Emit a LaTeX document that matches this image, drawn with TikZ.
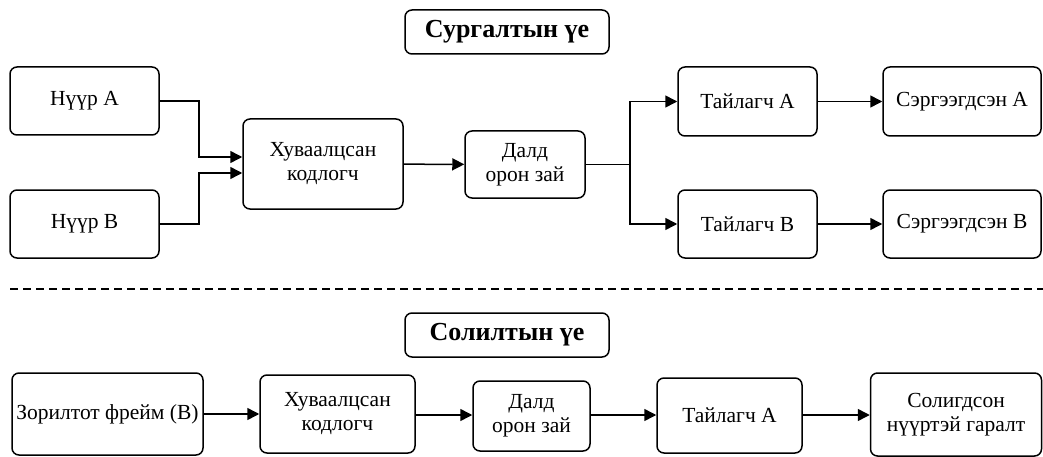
\documentclass[tikz,border=0pt]{standalone}
\usepackage{fontspec}
\setmainfont{Liberation Serif}
\usetikzlibrary{shapes,arrows,arrows.meta,positioning,calc}
\tikzset{
    block/.style={rectangle, draw, line width=1.5pt, rounded corners=7pt, align=center, inner sep=0pt, font=\fontsize{21.5}{24}\selectfont},
    phase/.style={block, minimum width=204pt, minimum height=44pt, font=\fontsize{26}{28}\selectfont\bfseries},
    line/.style={draw, line width=1.5pt, -{Triangle[length=12pt,width=12pt]}}
}
\begin{document}
\begin{tikzpicture}[x=1pt, y=-1pt]
    \useasboundingbox (0,0) rectangle (1043,457);
    % Training phase
    \node [phase] (train) at (507,32) {Сургалтын үе};
    \node [block, minimum width=149pt, minimum height=68pt] (faceA) at (84.5,101) {Нүүр A};
    \node [block, minimum width=149pt, minimum height=68pt] (faceB) at (84.5,224) {Нүүр B};
    \node [block, minimum width=160pt, minimum height=90pt] (enc) at (323,164) {Хуваалцсан\\кодлогч};
    \node [block, minimum width=120pt, minimum height=67pt] (latent) at (525,164.5) {Далд\\орон зай};
    \node [block, minimum width=139pt, minimum height=69pt] (decA) at (747.5,101.5) {Тайлагч A};
    \node [block, minimum width=139pt, minimum height=68pt] (decB) at (747.5,224) {Тайлагч B};
    \node [block, minimum width=158pt, minimum height=69pt] (recA) at (962,101.5) {Сэргээгдсэн A};
    \node [block, minimum width=158pt, minimum height=68pt] (recB) at (962,224) {Сэргээгдсэн B};

    % Separator
    \coordinate (sepL) at (10,289);
    \coordinate (sepR) at (1043,289);
    \draw [line width=1.5pt, dash pattern=on 8pt off 5pt] (sepL) -- (sepR);

    % Swap phase
    \node [phase] (swap) at (507,335) {Солилтын үе};
    \node [block, minimum width=191pt, minimum height=82pt] (target) at (107.5,414) {Зорилтот фрейм (B)};
    \node [block, minimum width=155pt, minimum height=78pt] (enc2) at (337.5,414) {Хуваалцсан\\кодлогч};
    \node [block, minimum width=117pt, minimum height=70pt] (latent2) at (531.5,416) {Далд\\орон зай};
    \node [block, minimum width=145pt, minimum height=75pt] (dec2) at (729.5,415.5) {Тайлагч A};
    \node [block, minimum width=171pt, minimum height=83pt] (out) at (956,414.5) {Солигдсон\\нүүртэй гаралт};

    % Connections
    \path [line] (faceA.east) -- ++(39,0) |- ([yshift=7pt]enc.west);
    \path [line] (faceB.east) -- ++(39,0) |- ([yshift=-9pt]enc.west);
    \path [line] (enc) -- (latent);
    \path [line] (latent.east) -- ++(44,0) |- (decA.west);
    \path [line] (latent.east) -- ++(44,0) |- (decB.west);
    \path [line] (decA) -- (recA);
    \path [line] (decB) -- (recB);

    \path [line] (target.east |- enc2) -- (enc2);
    \path [line] (enc2.east |- 0,415) -- (latent2.west |- 0,415);
    \path [line] (latent2.east |- 0,415) -- (dec2.west |- 0,415);
    \path [line] (dec2.east |- 0,415) -- (out.west |- 0,415);
\end{tikzpicture}
\end{document}
